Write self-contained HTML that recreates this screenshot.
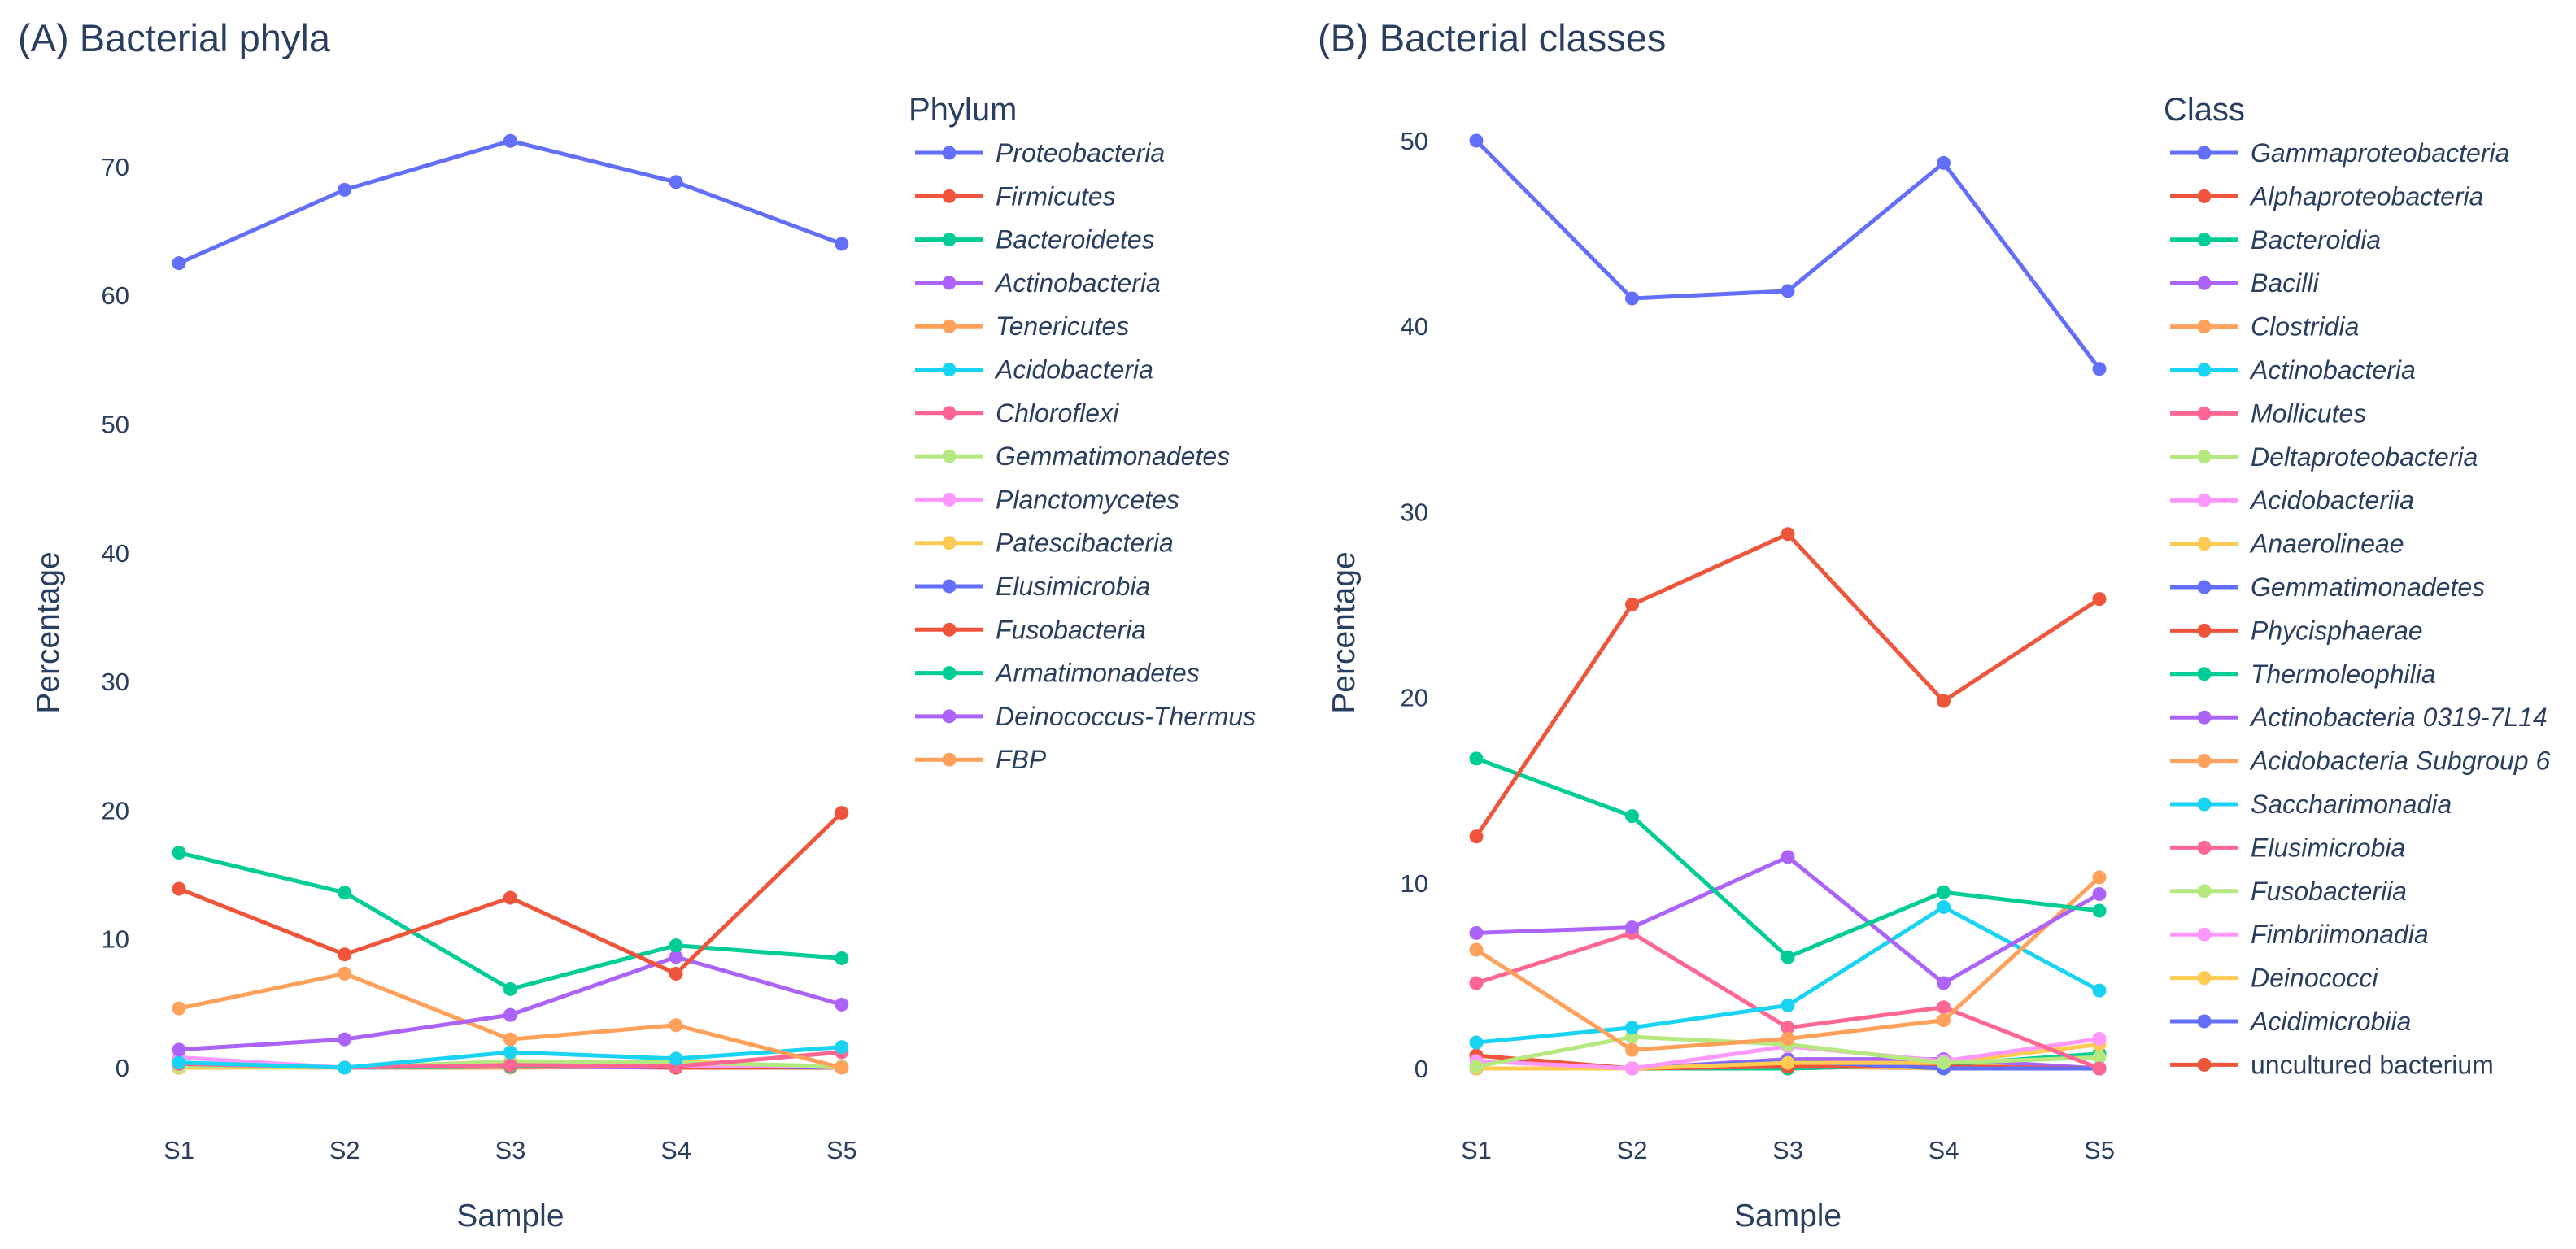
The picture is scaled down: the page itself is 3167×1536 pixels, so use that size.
<!DOCTYPE html>
<html><head><meta charset="utf-8"><style>
html,body{margin:0;padding:0;background:#fff;}
svg{display:block;font-family:"Liberation Sans",sans-serif;}
</style></head><body>
<svg id="chart" width="3167" height="1536" viewBox="0 0 3167 1536">
<text x="22" y="63" font-size="47" fill="#2a3f5f">(A) Bacterial phyla</text>
<text x="1620" y="63" font-size="47" fill="#2a3f5f">(B) Bacterial classes</text>
<g id="pa"></g>
<g id="pb"></g>
</svg>
<script>
const samples = ["S1","S2","S3","S4","S5"];
const colors = ["#636efa","#EF553B","#00cc96","#ab63fa","#FFA15A","#19d3f3","#FF6692","#B6E880","#FF97FF","#FECB52"];
const phylaNames = ["Proteobacteria","Firmicutes","Bacteroidetes","Actinobacteria","Tenericutes","Acidobacteria","Chloroflexi","Gemmatimonadetes","Planctomycetes","Patescibacteria","Elusimicrobia","Fusobacteria","Armatimonadetes","Deinococcus-Thermus","FBP"];
const phylaValues = [
 [62.5,68.2,72,68.8,64],
 [13.9,8.8,13.2,7.3,19.8],
 [16.7,13.6,6.1,9.5,8.5],
 [1.4,2.2,4.1,8.6,4.9],
 [4.6,7.3,2.2,3.3,0],
 [0.4,0,1.2,0.7,1.6],
 [0.3,0,0.2,0.1,1.2],
 [0.1,0,0.5,0.4,0.1],
 [0.8,0,0.3,0.1,0.1],
 [0,0,0.2,0.5,0],
 [0,0,0.3,0.2,0],
 [0,0,0.4,0,0],
 [0,0,0.1,0.1,0],
 [0,0,0.1,0,0],
 [0,0,0,0.1,0]
];
const phylaTicks = [0,10,20,30,40,50,60,70];
const classNames = ["Gammaproteobacteria","Alphaproteobacteria","Bacteroidia","Bacilli","Clostridia","Actinobacteria","Mollicutes","Deltaproteobacteria","Acidobacteriia","Anaerolineae","Gemmatimonadetes","Phycisphaerae","Thermoleophilia","Actinobacteria 0319-7L14","Acidobacteria Subgroup 6","Saccharimonadia","Elusimicrobia","Fusobacteriia","Fimbriimonadia","Deinococci","Acidimicrobiia","uncultured bacterium"];
const classValues = [
 [50,41.5,41.9,48.8,37.7],
 [12.5,25,28.8,19.8,25.3],
 [16.7,13.6,6.0,9.5,8.5],
 [7.3,7.6,11.4,4.6,9.4],
 [6.4,1.0,1.6,2.6,10.3],
 [1.4,2.2,3.4,8.7,4.2],
 [4.6,7.3,2.2,3.3,0],
 [0.1,1.7,1.3,0.3,0.6],
 [0.4,0,1.2,0.4,1.6],
 [0,0,0.3,0.3,1.3],
 [0,0,0.4,0,0],
 [0,0,0.1,0.1,0],
 [0,0,0,0.2,0.8],
 [0,0,0.5,0.5,0],
 [0,0,0.2,0.2,0],
 [0,0,0.2,0.5,0],
 [0,0,0.3,0.2,0],
 [0,0,0.4,0,0],
 [0,0,0.1,0.1,0],
 [0,0,0.1,0,0],
 [0,0,0.1,0,0],
 [0.7,0,0,0.2,0]
];
const classTicks = [0,10,20,30,40,50];
const NS="http://www.w3.org/2000/svg";
function mk(parent, tag, attrs, text){
  const e=document.createElementNS(NS,tag);
  for(const k in attrs) e.setAttribute(k,attrs[k]);
  if(text!==undefined) e.textContent=text;
  parent.appendChild(e); return e;
}
function panel(gid, cfg, names, values, ticks, legendTitle, keyPrefix){
  const g=document.getElementById(gid);
  const xs=i=>cfg.x0+i*cfg.dx;
  const ys=v=>cfg.y0-v*cfg.py;
  ticks.forEach(t=>{
    const tl=mk(g,'text',{x:cfg.tickX,y:ys(t)+11,'font-size':31,fill:'#2a3f5f','text-anchor':'end'},String(t));
    
    
  });
  samples.forEach((s,i)=>{
    const tl=mk(g,'text',{x:xs(i),y:1425,'font-size':31,fill:'#2a3f5f','text-anchor':'middle'},s);
    
    
  });
  const xt=mk(g,'text',{x:(xs(0)+xs(4))/2,y:1508,'font-size':39,fill:'#2a3f5f','text-anchor':'middle'},'Sample');
  
  
  const yt=mk(g,'text',{x:0,y:0,'font-size':39,fill:'#2a3f5f','text-anchor':'middle',transform:`translate(${cfg.ytX},778) rotate(-90)`},'Percentage');
  
  
  for(let k=names.length-1;k>=0;k--){
    const c=colors[k%10];
    const pts=values[k].map((v,i)=>xs(i)+','+ys(v)).join(' ');
    const sg=mk(g,'g',{});
    
    
    mk(sg,'polyline',{points:pts,fill:'none',stroke:c,'stroke-width':5,'stroke-linejoin':'round'});
    values[k].forEach((v,i)=>{
      const p=mk(sg,'circle',{cx:xs(i),cy:ys(v),r:8.5,fill:c});
      
      
    });
  }
  const lt=mk(g,'text',{x:cfg.legX+4,y:148,'font-size':40,fill:'#2a3f5f'},legendTitle);
  
  
  names.forEach((n,k)=>{
    const c=colors[k%10];
    const y=188+k*cfg.legDy;
    const eg=mk(g,'g',{});
    
    
    mk(eg,'line',{x1:cfg.legX+12,x2:cfg.legX+96,y1:y,y2:y,stroke:c,'stroke-width':5});
    mk(eg,'circle',{cx:cfg.legX+54,cy:y,r:8.5,fill:c});
    mk(eg,'text',{x:cfg.legX+111,y:y+11,'font-size':32,fill:'#2a3f5f','font-style':n==='uncultured bacterium'?'normal':'italic'},n);
  });
}
panel('pa',{x0:220,dx:203.7,y0:1313,py:15.83,tickX:159,ytX:72,legX:1113,legDy:53.3},phylaNames,phylaValues,phylaTicks,'Phylum','phyla');
panel('pb',{x0:1815,dx:191.5,y0:1314,py:22.82,tickX:1756,ytX:1665,legX:2656,legDy:53.4},classNames,classValues,classTicks,'Class','class');
</script>
</body></html>
